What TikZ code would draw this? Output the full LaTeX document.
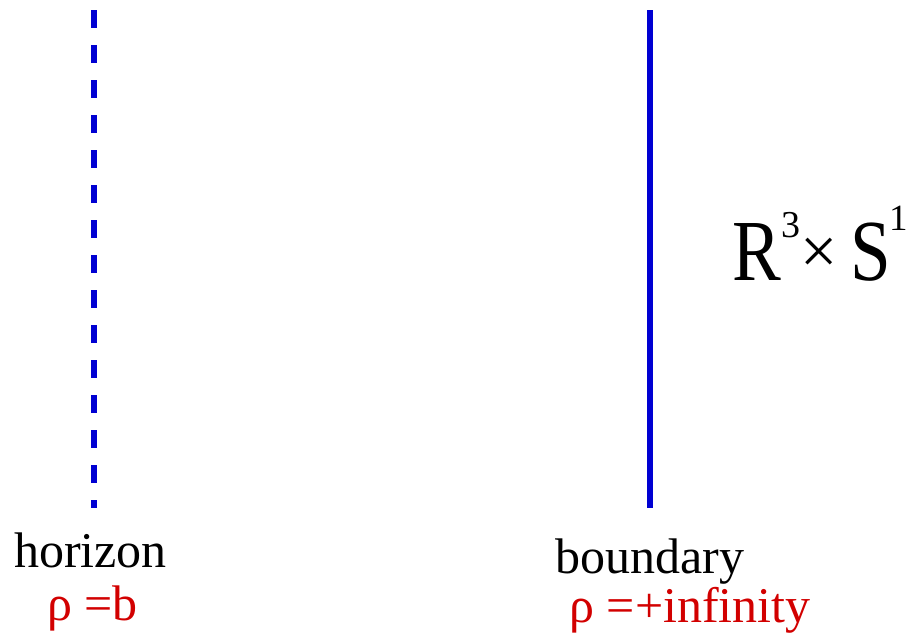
\documentclass[tikz,border=0pt]{standalone}
\usepackage{fontspec}
\setmainfont{Liberation Serif}
\definecolor{lineblue}{RGB}{0,0,210}
\definecolor{labred}{RGB}{210,0,0}
\tikzset{
  wall/.style={draw=lineblue, line width=5.5pt},
  lab/.style={anchor=base, inner sep=0pt, font=\fontsize{50}{50}\selectfont},
  redlab/.style={lab, text=labred},
  sym/.style={anchor=base west, inner sep=0pt},
}
\begin{document}
\begin{tikzpicture}[x=1pt,y=-1pt]
\useasboundingbox (0,0) rectangle (918,635);
\coordinate (htop) at (94,10);
\coordinate (hbot) at (94,508);
\coordinate (btop) at (650,10);
\coordinate (bbot) at (650,508);
\draw[wall, dash pattern=on 18pt off 17pt] (htop) -- (hbot);
\draw[wall] (btop) -- (bbot);
\node[lab] (hor) at (90.5,567) {horizon};
\node[redlab] (horr) at (92.5,620) {ρ =b};
\node[lab] (bnd) at (650,573) {boundary};
\node[redlab] (bndr) at (690,622) {ρ =+infinity};
\node[sym, font=\fontsize{87}{87}\selectfont] (sR) at (732,280) {\scalebox{0.84}[1]{R}};
\node[sym, font=\fontsize{38}{38}\selectfont] (s3) at (781.5,237.5) {3};
\node[sym, font=\fontsize{66}{66}\selectfont] (sx) at (800.5,273.5) {×};
\node[sym, font=\fontsize{87}{87}\selectfont] (sS) at (850,280) {\scalebox{0.84}[1]{S}};
\node[sym, font=\fontsize{37}{37}\selectfont] (s1) at (889,230) {1};
\end{tikzpicture}
\end{document}
